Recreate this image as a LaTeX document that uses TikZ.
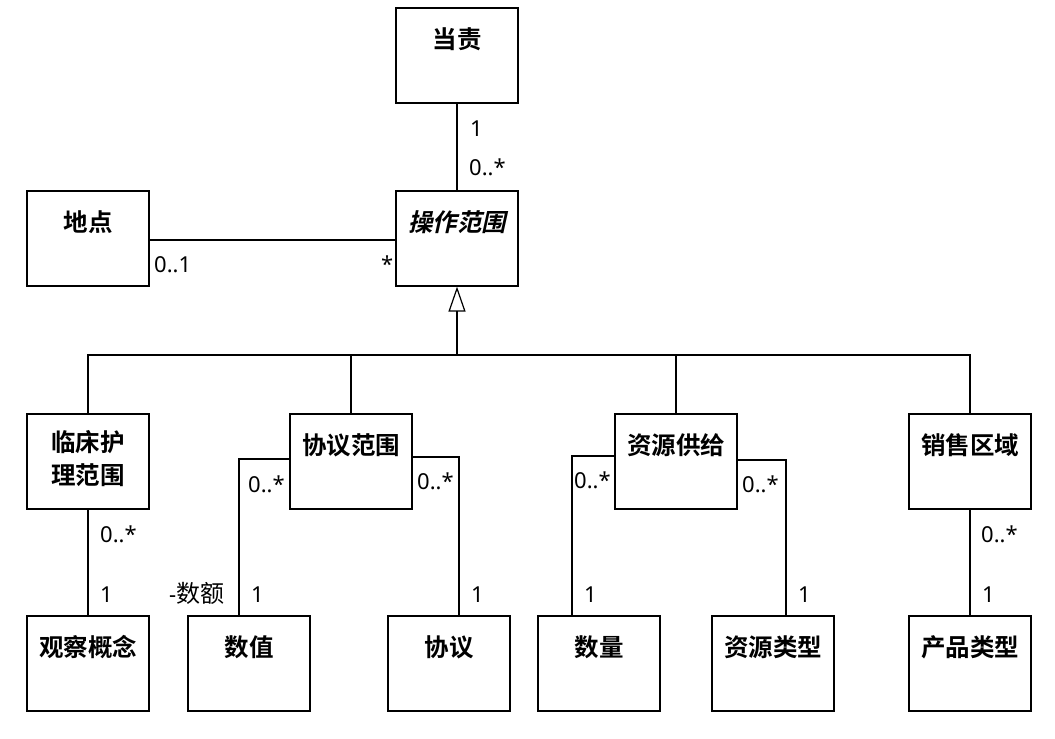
\documentclass[tikz,border=0pt]{standalone}
\usepackage{fontspec}
\newfontfamily\cjk{Noto Sans CJK SC}
\newfontfamily\cjkb{Noto Sans CJK SC Bold}
\newfontfamily\cjkbi{Noto Sans CJK SC Bold}[FakeSlant=0.22]
\newfontfamily\lat{Noto Sans}
\usetikzlibrary{arrows.meta}
\begin{document}
\begin{tikzpicture}[x=1pt,y=-1pt,
  umlbox/.style={draw, line width=1.2pt, minimum width=122pt, minimum height=95pt, inner sep=0pt},
  ttl/.style={font=\cjkb\fontsize{24.5}{33.5}\selectfont, inner sep=0pt, align=center},
  ttli/.style={font=\cjkbi\fontsize{24.5}{33.5}\selectfont, inner sep=0pt, align=center},
  mult/.style={font=\lat\fontsize{22}{26}\selectfont, inner sep=0pt, anchor=base west},
  conn/.style={line width=1.2pt}]
\fill[white] (0,0) rectangle (1055,739);
\useasboundingbox (0,0) rectangle (1055,739);

% boxes
\node[umlbox] (dz)   at (457,55.5)  {};
\node[umlbox] (czfw) at (457,238.5) {};
\node[umlbox] (dd)   at (88,238.5)  {};
\node[umlbox] (lc)   at (88,461.5)  {};
\node[umlbox] (xyfw) at (351,461.5) {};
\node[umlbox] (zygj) at (676,461.5) {};
\node[umlbox] (xsqy) at (970,461.5) {};
\node[umlbox] (gc)   at (88,663.5)  {};
\node[umlbox] (sz)   at (249,663.5) {};
\node[umlbox] (xy)   at (449,663.5) {};
\node[umlbox] (sl)   at (599,663.5) {};
\node[umlbox] (zylx) at (773,663.5) {};
\node[umlbox] (cplx) at (970,663.5) {};

% titles
\node[ttl]  (tdz)   at ([yshift=-32pt]dz.north)   {当责};
\node[ttli] (tczfw) at ([yshift=-32pt]czfw.north) {操作范围};
\node[ttl]  (tdd)   at ([yshift=-32pt]dd.north)   {地点};
\node[ttl]  (tlc)   at ([yshift=-45pt]lc.north)   {临床护\\理范围};
\node[ttl]  (txyfw) at ([yshift=-32pt]xyfw.north) {协议范围};
\node[ttl]  (tzygj) at ([yshift=-32pt]zygj.north) {资源供给};
\node[ttl]  (txsqy) at ([yshift=-32pt]xsqy.north) {销售区域};
\node[ttl]  (tgc)   at ([yshift=-32pt]gc.north)   {观察概念};
\node[ttl]  (tsz)   at ([yshift=-32pt]sz.north)   {数值};
\node[ttl]  (txy)   at ([yshift=-32pt]xy.north)   {协议};
\node[ttl]  (tsl)   at ([yshift=-32pt]sl.north)   {数量};
\node[ttl]  (tzylx) at ([yshift=-32pt]zylx.north) {资源类型};
\node[ttl]  (tcplx) at ([yshift=-32pt]cplx.north) {产品类型};

% associations
\draw[conn] (dz.south) -- (czfw.north);
\draw[conn] ([yshift=-1.5pt]dd.east) -- ([yshift=-1.5pt]czfw.west);
\draw[conn] (lc.south) -- (gc.north);
\draw[conn] ([yshift=2.5pt]xyfw.west) -| ([xshift=-10pt]sz.north);
\draw[conn] ([yshift=4.5pt]xyfw.east) -| ([xshift=10pt]xy.north);
\draw[conn] ([yshift=5.5pt]zygj.west) -| ([xshift=-27pt]sl.north);
\draw[conn] ([yshift=1.5pt]zygj.east) -| ([xshift=13pt]zylx.north);
\draw[conn] (xsqy.south) -- (cplx.north);

% generalization
\coordinate (bus) at (457,355);
\draw[conn, -{Triangle[open, length=25pt, width=17pt, line width=1.2pt]}] (bus) -- (czfw.south);
\draw[conn] (lc.north) -- (lc.north |- bus) -- (xsqy.north |- bus) -- (xsqy.north);
\draw[conn] (xyfw.north) -- (xyfw.north |- bus);
\draw[conn] (zygj.north) -- (zygj.north |- bus);

% multiplicities
\node[mult] (m1)  at (470,136) {1};
\node[mult] (m2)  at (469,175) {0..*};
\node[mult] (m3)  at (154,272) {0..1};
\node[mult] (m4)  at (381,272) {*};
\node[mult] (m5)  at (100,542) {0..*};
\node[mult] (m6)  at (100,602) {1};
\node[mult] (m7)  at (248,492) {0..*};
\node[mult] (m8)  at (169,602) {-{\cjk\fontsize{24}{26}\selectfont 数额}};
\node[mult] (m9)  at (251,602) {1};
\node[mult] (m10) at (417,489) {0..*};
\node[mult] (m11) at (471,602) {1};
\node[mult] (m12) at (574,488) {0..*};
\node[mult] (m13) at (742,492) {0..*};
\node[mult] (m14) at (584,602) {1};
\node[mult] (m15) at (798,602) {1};
\node[mult] (m16) at (981,542) {0..*};
\node[mult] (m17) at (982,602) {1};
\end{tikzpicture}
\end{document}
